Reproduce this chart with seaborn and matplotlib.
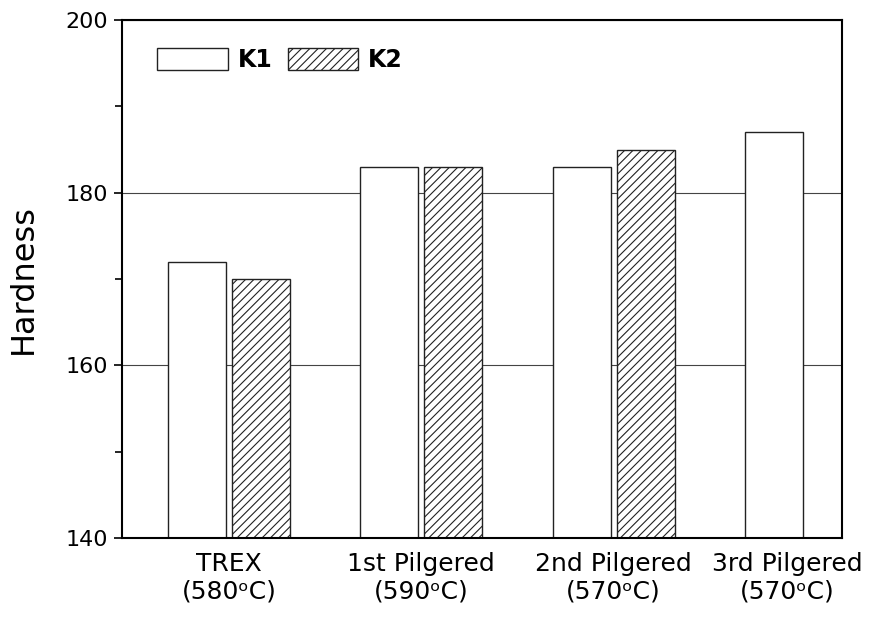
import numpy as np
import pandas as pd
import matplotlib
matplotlib.use("Agg")
import matplotlib.pyplot as plt
from matplotlib.patches import Patch
from matplotlib.ticker import MultipleLocator
from matplotlib.transforms import ScaledTranslation
import seaborn as sns

# ---- data ----
categories = ["TREX", "1st Pilgered", "2nd Pilgered", "3rd Pilgered"]
temps = ["580", "590", "570", "570"]
k1_values = [172, 183, 183, 187]
k2_values = [170, 183, 185, np.nan]
series = ["K1", "K2"]

sns.set_theme(style="white")
plt.rcParams["font.family"] = ["DejaVu Sans"]
plt.rcParams["text.color"] = "black"
plt.rcParams["axes.labelcolor"] = "black"
plt.rcParams["xtick.color"] = "black"
plt.rcParams["ytick.color"] = "black"
plt.rcParams["hatch.linewidth"] = 0.8
plt.rcParams["hatch.color"] = "black"

df = pd.DataFrame({
    "cat": categories * 2,
    "series": ["K1"] * 4 + ["K2"] * 4,
    "value": k1_values + k2_values,
})

fig = plt.figure(figsize=(8.74, 6.2), dpi=100)
ax = fig.add_axes([122 / 874, 1 - 538 / 620, 720 / 874, 518 / 620])

sns.barplot(data=df, x="cat", y="value", hue="series", hue_order=series,
            order=categories, width=0.665, gap=0.094, dodge=True,
            palette=["white", "white"], edgecolor="#222222",
            linewidth=1.0, ax=ax, legend=False, errorbar=None)

for bar in ax.containers[1]:
    bar.set_hatch("////")

ax.set_ylim(140, 200)
ax.set_xlim(-0.556, 3.187)
ax.yaxis.set_major_locator(MultipleLocator(20))
ax.yaxis.set_minor_locator(MultipleLocator(10))

ax.set_axisbelow(True)
ax.yaxis.grid(True, which="major", color="#444444", linewidth=0.8)
ax.xaxis.grid(False)

for s in ax.spines.values():
    s.set_visible(True)
    s.set_color("black")
    s.set_linewidth(1.5)

ax.tick_params(axis="y", which="major", direction="out", length=6, width=1.2,
               left=True, right=False, labelsize=16, pad=4, colors="black")
ax.tick_params(axis="y", which="minor", direction="out", length=5, width=1.2,
               left=True, right=False)

xlabels = [f"{c}\n({t}\u1d52C)" for c, t in zip(categories, temps)]
ax.set_xticks(range(len(categories)))
ax.set_xticklabels(xlabels, fontsize=18, linespacing=1.2)
ax.tick_params(axis="x", length=0, pad=10, colors="black")
# the last label is nudged left in the reference so it stays inside the figure
last = ax.get_xticklabels()[-1]
last.set_transform(last.get_transform() + ScaledTranslation(-0.19, 0, fig.dpi_scale_trans))

ax.set_xlabel("")
ax.set_ylabel("Hardness", fontsize=23, color="black")
ax.yaxis.set_label_coords(-0.115, 0.5)

handles = [Patch(facecolor="white", edgecolor="#222222", linewidth=1.0, label="K1"),
           Patch(facecolor="white", edgecolor="#222222", linewidth=1.0, hatch="////", label="K2")]
leg = ax.legend(handles=handles, loc="upper left", bbox_to_anchor=(0.0486, 0.946),
                ncol=2, frameon=False, borderpad=0, borderaxespad=0,
                handlelength=3.0, handleheight=1.06, handletextpad=0.42,
                columnspacing=0.64, prop={"weight": "bold", "size": 17},
                labelcolor="black")

fig.savefig("out.png", dpi=100)
